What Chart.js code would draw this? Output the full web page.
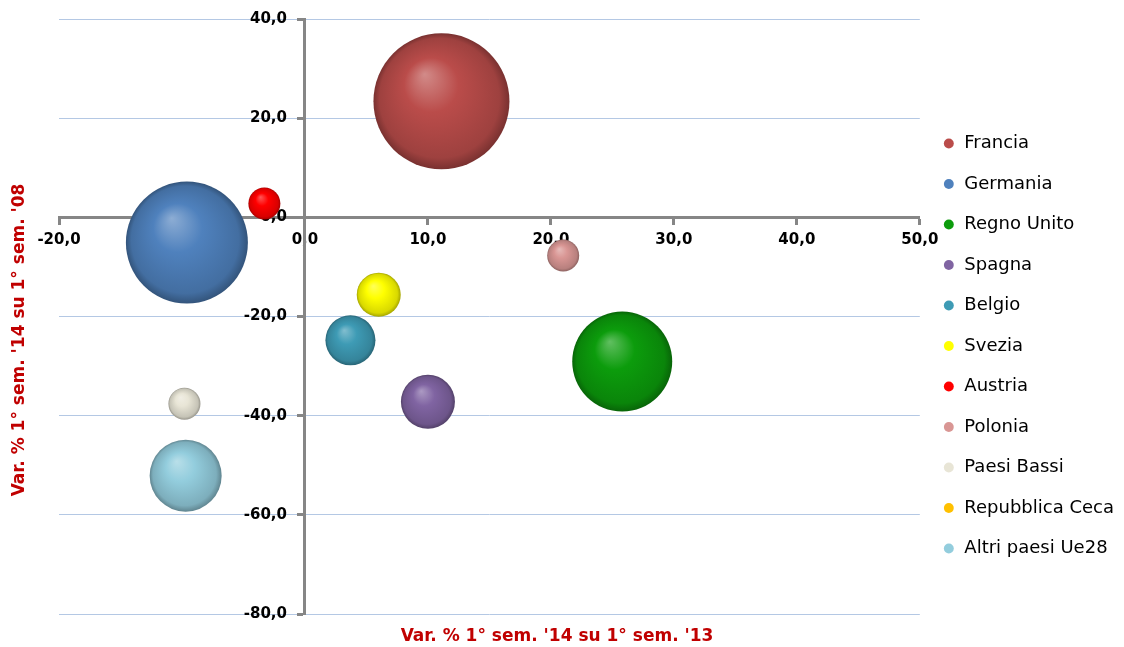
<!DOCTYPE html>
<html>
<head>
    <title>Bubble Chart</title>
    <script src="https://cdn.jsdelivr.net/npm/chart.js"></script>
    <style>
        body { margin: 0; background: #ffffff; }
        #chart-container { width: 1124px; height: 647px; }
    </style>
</head>
<body>
    <div id="chart-container"><canvas id="bubble-chart"></canvas></div>

    <script>
        // Data
        const countries = ['Francia', 'Germania', 'Regno Unito', 'Spagna', 'Belgio', 'Svezia',
                           'Austria', 'Polonia', 'Paesi Bassi', 'Repubblica Ceca', 'Altri paesi Ue28'];
        // Var. % 1° sem. '14 su 1° sem. '13
        const varOnYear = [11.1, -9.6, 25.8, 10.0, 3.7, 6.0, -3.3, 21.0, -9.8, null, -9.7];
        // Var. % 1° sem. '14 su 1° sem. '08
        const varOnSixYears = [23.4, -5.1, -29.1, -37.2, -24.8, -15.6, 2.8, -7.7, -37.6, null, -52.1];
        // bubble size (radius in px, as the library wants it)
        const bubbleRadius = [68, 61, 50, 27, 25, 22, 16, 16, 16, 0, 36];
        const colors = ['#BA4C4A', '#4F81BD', '#0C9C0C', '#8064A2', '#3E9BB5', '#FFFF00',
                        '#FF0000', '#D99694', '#E8E5D6', '#FFC000', '#93CDDD'];

        const xTicks = { min: -20, max: 50, step: 10 };
        const yTicks = { min: -80, max: 40, step: 20 };

        const fontFamily = '"DejaVu Sans", "Liberation Sans", Arial, sans-serif';

        function mix(hex, target, amount) {
            const n = parseInt(hex.slice(1), 16);
            const r = (n >> 16) & 255, g = (n >> 8) & 255, b = n & 255;
            const m = v => Math.round(v + (target - v) * amount);
            return 'rgb(' + m(r) + ',' + m(g) + ',' + m(b) + ')';
        }

        // sphere look, like the 3-D bubbles of the original
        function sphereFill(context) {
            const chart = context.chart;
            const base = colors[context.datasetIndex];
            if (!chart.chartArea || context.type !== 'data' || !context.raw) return base;
            const cx = chart.scales.x.getPixelForValue(context.raw.x);
            const cy = chart.scales.y.getPixelForValue(context.raw.y);
            const r = context.raw.r || 1;
            const g = chart.ctx.createRadialGradient(cx - r * 0.25, cy - r * 0.4, 0, cx, cy, r);
            g.addColorStop(0, mix(base, 255, 0.35));
            g.addColorStop(0.4, base);
            g.addColorStop(0.88, mix(base, 0, 0.15));
            g.addColorStop(1, mix(base, 0, 0.35));
            return g;
        }

        const datasets = countries.map((name, i) => ({
            label: name,
            data: varOnYear[i] === null ? [] : [{ x: varOnYear[i], y: varOnSixYears[i], r: bubbleRadius[i] }],
            backgroundColor: sphereFill,
            borderWidth: 0,
            clip: false
        }));

        const fmt = v => v.toFixed(1).replace('.', ',');

        // axis titles drawn in red, outside the crossing axes
        const axisTitles = {
            id: 'axisTitles',
            afterDraw(chart) {
                const ctx = chart.ctx;
                ctx.save();
                ctx.fillStyle = '#C00000';
                ctx.font = 'bold 17px ' + fontFamily;
                ctx.textAlign = 'center';
                ctx.textBaseline = 'middle';
                ctx.fillText("Var. % 1° sem. '14 su 1° sem. '13", 557, 637);
                ctx.translate(20, 340);
                ctx.rotate(-Math.PI / 2);
                ctx.fillText("Var. % 1° sem. '14 su 1° sem. '08", 0, 0);
                ctx.restore();
            }
        };

        // push the legend list down so it sits beside the middle of the plot
        const legendOffset = {
            id: 'legendOffset',
            afterLayout(chart) {
                chart.legend.top += 93;
            }
        };

        new Chart(document.getElementById('bubble-chart'), {
            type: 'bubble',
            data: { datasets: datasets },
            plugins: [axisTitles, legendOffset],
            options: {
                responsive: true,
                maintainAspectRatio: false,
                animation: false,
                events: [],
                layout: { autoPadding: false, padding: { left: 59, top: 19, bottom: 33, right: 0 } },
                scales: {
                    x: {
                        type: 'linear',
                        position: { y: 0 },
                        min: xTicks.min,
                        max: xTicks.max,
                        ticks: {
                            stepSize: xTicks.step,
                            color: '#000000',
                            font: { family: fontFamily, size: 15, weight: 'bold' },
                            padding: 8,
                            maxRotation: 0,
                            callback: v => fmt(v)
                        },
                        grid: {
                            drawOnChartArea: false,
                            drawTicks: true,
                            tickLength: 6,
                            tickColor: '#868686',
                            tickWidth: 3
                        },
                        border: { display: true, color: '#868686', width: 3 }
                    },
                    y: {
                        type: 'linear',
                        position: { x: 0 },
                        min: yTicks.min,
                        max: yTicks.max,
                        ticks: {
                            stepSize: yTicks.step,
                            color: '#000000',
                            font: { family: fontFamily, size: 15, weight: 'bold' },
                            // the crossing axis ignores padding, so keep the label off the line
                            callback: v => fmt(v) + '\u2002\u2002\u2009'
                        },
                        grid: {
                            color: '#B4C8E4',
                            lineWidth: 1,
                            drawTicks: true,
                            tickLength: 6,
                            tickColor: '#868686',
                            tickWidth: 3
                        },
                        border: { display: true, color: '#868686', width: 3 }
                    }
                },
                plugins: {
                    tooltip: { enabled: false },
                    legend: {
                        position: 'right',
                        align: 'start',
                        labels: {
                            color: '#000000',
                            font: { family: fontFamily, size: 18 },
                            usePointStyle: true,
                            boxWidth: 13,
                            boxHeight: 7,
                            padding: 22.5,
                            generateLabels: chart => chart.data.datasets.map((ds, i) => ({
                                text: ds.label,
                                fillStyle: colors[i],
                                strokeStyle: colors[i],
                                fontColor: '#000000',
                                lineWidth: 0,
                                pointStyle: 'circle',
                                hidden: false,
                                datasetIndex: i
                            }))
                        }
                    }
                }
            }
        });
    </script>
</body>
</html>
